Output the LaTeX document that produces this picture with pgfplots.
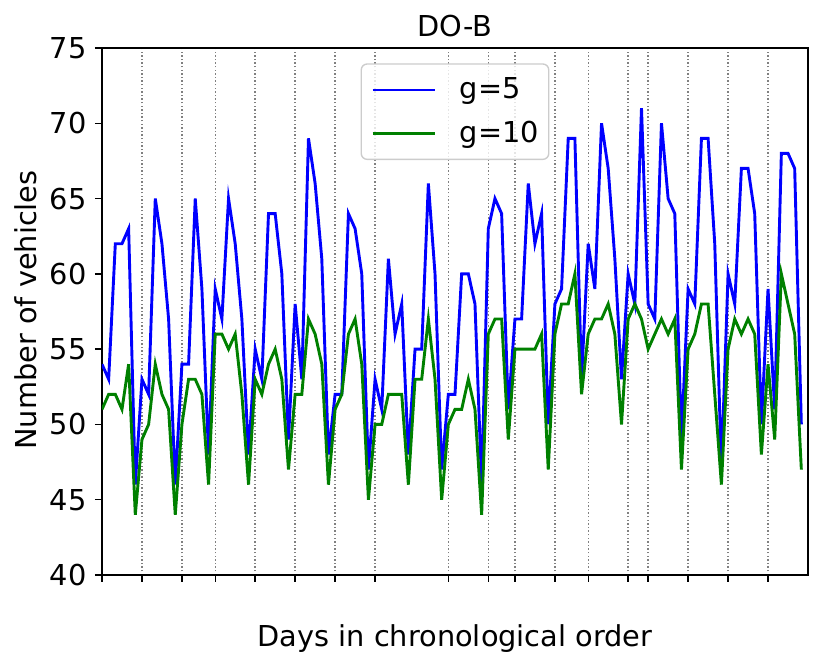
\documentclass[border=0pt]{standalone}
\usepackage{fontspec}
\setmainfont{DejaVu Sans}
\usepackage{pgfplots}
\pgfplotsset{compat=1.18}
\definecolor{mplgreen}{RGB}{0,128,0}
\begin{document}
\begin{tikzpicture}
\begin{axis}[
  at={(0,0)}, anchor=south west,
  scale only axis, width=353pt, height=263.5pt,
  xmin=0, xmax=106, ymin=40, ymax=75,
  xtick={0,6,12,17,23,29,35,41,52,58,62,68,73,79,82,88,94,100},
  xticklabels={},
  ytick={40,45,50,55,60,65,70,75},
  tick pos=left, tick align=outside,
  major tick length=3.5pt,
  tick style={black, line width=0.7pt},
  axis line style={line width=0.7pt},
  xmajorgrids=true,
  major grid style={gray, line width=0.7pt, dash pattern=on 0.7pt off 1.1pt},
  /pgf/number format/assume math mode=true,
  every tick label/.append style={font=\fontsize{14.4}{17}\selectfont},
  yticklabel style={inner sep=0pt, xshift=-4pt},
  xlabel={Days in chronological order},
  xlabel style={at={(axis description cs:0.5,0)}, anchor=base, yshift=-35.85pt, font=\fontsize{14.4}{17}\selectfont},
  legend style={at={(0.5,0.971)}, anchor=north, draw=black!20, line width=0.7pt, rounded corners=3pt,
    fill=white, fill opacity=0.8, text opacity=1, draw opacity=1,
    inner xsep=5pt, inner ysep=5pt, row sep=5.7pt,
    font=\fontsize{14.4}{17}\selectfont,
    nodes={inner xsep=0pt, inner ysep=0pt, text height=12.5pt, text depth=3.5pt},
    /tikz/every odd column/.append style={column sep=11.85pt}},
  legend cell align=left,
  legend image code/.code={\draw[#1, line width=1.4pt] (0pt,0pt) -- (31pt,0pt);},
]
\addplot[blue, line width=1.45pt] coordinates {
(0,54)(1,53)(2,62)(3,62)(4,63)(5,46)(6,53)(7,52)(8,65)(9,62)
(10,57)(11,46)(12,54)(13,54)(14,65)(15,59)(16,48)(17,59)(18,57)(19,65)
(20,62)(21,57)(22,48)(23,55)(24,53)(25,64)(26,64)(27,60)(28,49)(29,58)
(30,53)(31,69)(32,66)(33,61)(34,48)(35,52)(36,52)(37,64)(38,63)(39,60)
(40,47)(41,53)(42,51)(43,61)(44,56)(45,58)(46,48)(47,55)(48,55)(49,66)
(50,60)(51,47)(52,52)(53,52)(54,60)(55,60)(56,58)(57,46)(58,63)(59,65)
(60,64)(61,51)(62,57)(63,57)(64,66)(65,62)(66,64)(67,50)(68,58)(69,59)
(70,69)(71,69)(72,53)(73,62)(74,59)(75,70)(76,67)(77,61)(78,53)(79,60)
(80,58)(81,71)(82,58)(83,57)(84,70)(85,65)(86,64)(87,49)(88,59)(89,58)
(90,69)(91,69)(92,62)(93,47)(94,60)(95,58)(96,67)(97,67)(98,64)(99,50)
(100,59)(101,51)(102,68)(103,68)(104,67)(105,50)
};
\addlegendentry{g=5}
\addplot[mplgreen, line width=1.45pt] coordinates {
(0,51)(1,52)(2,52)(3,51)(4,54)(5,44)(6,49)(7,50)(8,54)(9,52)
(10,51)(11,44)(12,50)(13,53)(14,53)(15,52)(16,46)(17,56)(18,56)(19,55)
(20,56)(21,52)(22,46)(23,53)(24,52)(25,54)(26,55)(27,53)(28,47)(29,52)
(30,52)(31,57)(32,56)(33,54)(34,46)(35,51)(36,52)(37,56)(38,57)(39,54)
(40,45)(41,50)(42,50)(43,52)(44,52)(45,52)(46,46)(47,53)(48,53)(49,57)
(50,53)(51,45)(52,50)(53,51)(54,51)(55,53)(56,51)(57,44)(58,56)(59,57)
(60,57)(61,49)(62,55)(63,55)(64,55)(65,55)(66,56)(67,47)(68,56)(69,58)
(70,58)(71,60)(72,52)(73,56)(74,57)(75,57)(76,58)(77,56)(78,50)(79,57)
(80,58)(81,57)(82,55)(83,56)(84,57)(85,56)(86,57)(87,47)(88,55)(89,56)
(90,58)(91,58)(92,52)(93,46)(94,55)(95,57)(96,56)(97,57)(98,56)(99,48)
(100,54)(101,49)(102,60)(103,58)(104,56)(105,47)
};
\addlegendentry{g=10}
\end{axis}
\node[anchor=base, font=\fontsize{14.4}{17}\selectfont, inner sep=0pt] at (176.5pt,269.3pt) {DO-B};
\node[rotate=90, anchor=base, font=\fontsize{14.4}{17}\selectfont, inner sep=0pt] at (-32.6pt,132.5pt) {Number of vehicles};
\pgfresetboundingbox
\path[use as bounding box] (-51pt,-46.5pt) rectangle (364pt,287.5pt);
\end{tikzpicture}
\end{document}
